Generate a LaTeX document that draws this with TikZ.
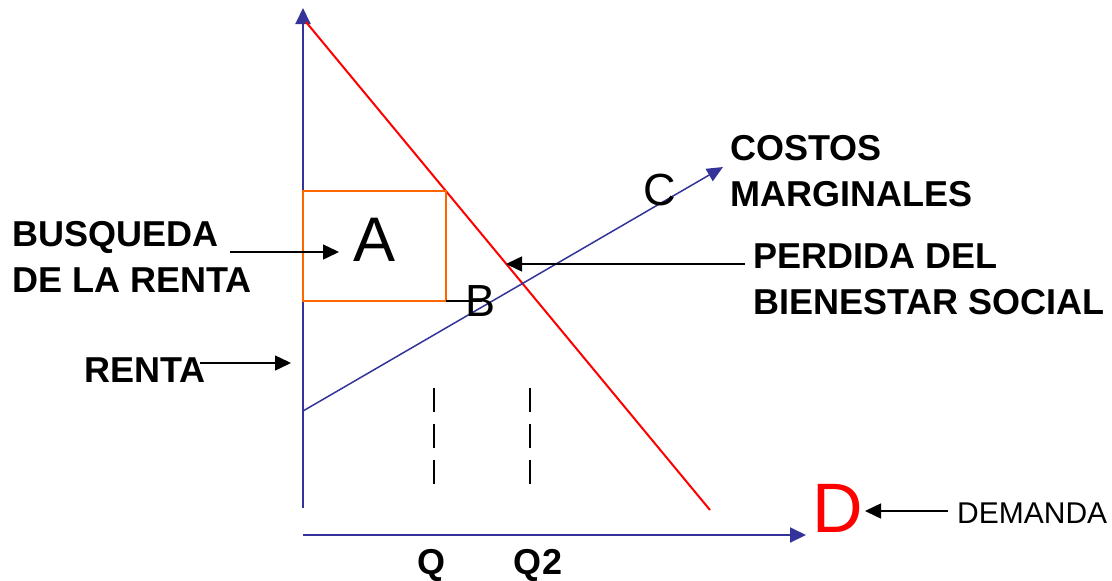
\documentclass[tikz,border=0pt]{standalone}
\usepackage{fontspec}
\setmainfont{Liberation Sans}
\usetikzlibrary{arrows.meta}
\definecolor{axisblue}{RGB}{51,51,153}
\definecolor{orng}{RGB}{255,102,0}
\begin{document}
\begin{tikzpicture}[x=1pt,y=-1pt,
  axis/.style={draw=axisblue,line width=2pt,-{Triangle[length=16pt,width=15pt]}},
  mc/.style={draw=axisblue,line width=1.5pt,-{Triangle[length=16pt,width=14pt]}},
  pointer/.style={draw=black,line width=1.5pt,-{Triangle[length=16pt,width=15pt]}},
  lbl/.style={font=\fontsize{36}{46}\selectfont\bfseries,inner sep=0pt,align=left,anchor=west},
  big/.style={font=\fontsize{45}{45}\selectfont,inner sep=0pt},
  qdash/.style={draw=black,line width=2pt,dash pattern=on 24pt off 12pt}]
\useasboundingbox (0,0) rectangle (1112,581);
% axes
\coordinate (o1) at (303,508);
\coordinate (ytop) at (303,8);
\coordinate (o2) at (303,535);
\coordinate (xend) at (806,535);
\draw[axis] (o1) -- (ytop);
\draw[axis] (o2) -- (xend);
% demand
\coordinate (d1) at (306,22);
\coordinate (d2) at (710,510);
\draw[red,line width=2pt] (d1) -- (d2);
% marginal cost
\coordinate (c1) at (303,411);
\coordinate (c2) at (723,167);
\draw[mc] (c1) -- (c2);
% rectangle
\coordinate (r1) at (303,191);
\coordinate (r2) at (446,301);
\draw[orng,line width=2pt] (r1) rectangle (r2);
\coordinate (bl) at (482,301);
\draw[black,line width=1.5pt] (r2) -- (bl);
% dashed
\coordinate (q1a) at (434,388);
\coordinate (q1b) at (434,486);
\coordinate (q2a) at (530,388);
\coordinate (q2b) at (530,486);
\draw[qdash] (q1a) -- (q1b);
\draw[qdash] (q2a) -- (q2b);
% letters
\node[big,font=\fontsize{63}{63}\selectfont] (A) at (375,240) {A};
\node[big] (B) at (481,301) {B};
\node[big] (C) at (660,190) {C};
\node[big,font=\fontsize{70}{70}\selectfont,text=red] (D) at (838,508) {D};
% labels
\node[lbl] (busq) at (12,257) {BUSQUEDA\\DE LA RENTA};
\node[lbl] (costos) at (730,171) {COSTOS\\MARGINALES};
\node[lbl] (perd) at (753,279) {PERDIDA DEL\\BIENESTAR SOCIAL};
\node[lbl] (renta) at (84,370) {RENTA};
\node[lbl,anchor=center] (q) at (431,565) {Q};
\node[lbl,anchor=center] (q2) at (538,565) {Q2};
\node[font=\fontsize{30}{30}\selectfont,inner sep=0pt,anchor=west] (dem) at (957,513) {DEMANDA};
% pointers
\coordinate (pb1) at (230,252);
\coordinate (pb2) at (339,252);
\draw[pointer] (pb1) -- (pb2);
\coordinate (pr1) at (200,363);
\coordinate (pr2) at (291,363);
\draw[pointer] (pr1) -- (pr2);
\coordinate (pp1) at (745,264);
\coordinate (pp2) at (506,264);
\draw[pointer] (pp1) -- (pp2);
\coordinate (pd1) at (948,511);
\coordinate (pd2) at (865,511);
\draw[pointer] (pd1) -- (pd2);
\end{tikzpicture}
\end{document}
